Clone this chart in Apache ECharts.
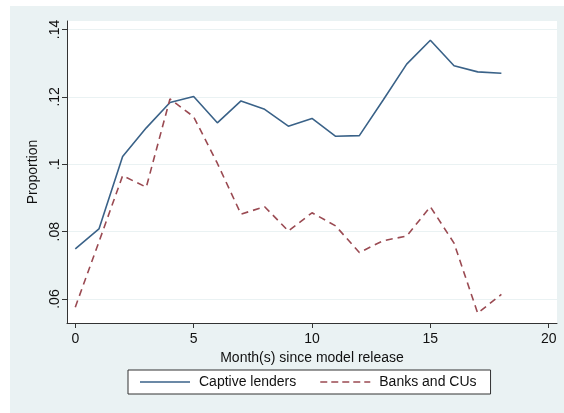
<!DOCTYPE html>
<html>
<head>
<meta charset="utf-8">
<script src="https://cdn.jsdelivr.net/npm/echarts@6/dist/echarts.min.js"></script>
<style>
  html, body { margin: 0; padding: 0; background: #ffffff; }
  #chart { width: 564px; height: 413px; }
</style>
</head>
<body>
<div id="chart"></div>
<script>
// Months since model release
const months = [0, 1, 2, 3, 4, 5, 6, 7, 8, 9, 10, 11, 12, 13, 14, 15, 16, 17, 18];
// Proportion, captive lenders
const captiveLenders = [0.0749, 0.0808, 0.1023, 0.1108, 0.1183, 0.1201, 0.1123, 0.1188, 0.1163,
  0.1113, 0.1136, 0.1083, 0.1085, 0.1190, 0.1297, 0.1368, 0.1292, 0.1274, 0.1270];
// Proportion, banks and credit unions
const banksAndCUs = [0.0576, 0.0770, 0.0966, 0.0932, 0.1194, 0.1141, 0.1003, 0.0852, 0.0874,
  0.0802, 0.0856, 0.0817, 0.0738, 0.0773, 0.0787, 0.0874, 0.0766, 0.0558, 0.0614];
const xTicks = [0, 5, 10, 15, 20];
const yTicks = [0.06, 0.08, 0.10, 0.12, 0.14];

const pair = (ys) => months.map((m, i) => [m, ys[i]]);
const fmtY = (v) => {
  const s = (Math.round(v * 100) / 100).toFixed(2).replace(/^0/, '');
  return s.replace(/0$/, '');
};

const chart = echarts.init(document.getElementById('chart'), null, { renderer: 'canvas' });
const font = 'Liberation Sans, Arial, sans-serif';
const axisColor = '#333333';
const gridColor = '#eaf2f3';
const blue = '#3a6288';
const red = '#9a4a52';

// Legend keys: a solid stroke and a five-dash stroke, 50 px long
const solidKey = 'path://M0,0H50V1.6H0Z';
const dashedKey = 'path://M0,0H7V1.6H0Z M11,0H18V1.6H11Z M22,0H29V1.6H22Z M33,0H40V1.6H33Z M44,0H50V1.6H44Z';

chart.setOption({
  animation: false,
  backgroundColor: '#ffffff',
  graphic: [
    { type: 'rect', shape: { x: 10, y: 6, width: 554, height: 407 }, style: { fill: '#eaf2f3' }, z: -10, silent: true },
    { type: 'rect', shape: { x: 67, y: 21, width: 490, height: 302 }, style: { fill: '#ffffff' }, z: -9, silent: true }
  ],
  grid: { left: 67, right: 7, top: 21, bottom: 90, containLabel: false },
  xAxis: {
    type: 'value',
    min: -0.35, max: 20.35,
    name: 'Month(s) since model release',
    nameLocation: 'middle',
    nameGap: 25,
    nameTextStyle: { fontFamily: font, fontSize: 14, color: '#111', verticalAlign: 'top' },
    axisLine: { show: true, onZero: false, lineStyle: { color: axisColor, width: 1 } },
    axisTick: { show: true, length: 5, customValues: xTicks, lineStyle: { color: axisColor } },
    axisLabel: { customValues: xTicks, fontFamily: font, fontSize: 14, color: '#111', margin: 9 },
    splitLine: { show: false }
  },
  yAxis: {
    type: 'value',
    min: 0.0529, max: 0.1425,
    name: 'Proportion',
    nameLocation: 'middle',
    nameGap: 24,
    nameTextStyle: { fontFamily: font, fontSize: 14, color: '#111' },
    axisLine: { show: true, onZero: false, lineStyle: { color: axisColor, width: 1 } },
    axisTick: { show: true, length: 5, customValues: yTicks, lineStyle: { color: axisColor } },
    axisLabel: { customValues: yTicks, rotate: 90, fontFamily: font, fontSize: 14, color: '#111', margin: 5, formatter: fmtY },
    splitLine: { show: true, lineStyle: { color: gridColor, width: 1.2 } }
  },
  legend: {
    left: 128, top: 370,
    width: 344,
    padding: [5, 14, 5, 12],
    backgroundColor: '#ffffff',
    borderColor: '#333333',
    borderWidth: 1,
    borderRadius: 0,
    itemWidth: 50, itemHeight: 14,
    itemGap: 24,
    symbolKeepAspect: true,
    textStyle: { fontFamily: font, fontSize: 14, color: '#111', padding: [0, 0, 0, 4] },
    data: [
      { name: 'Captive lenders', icon: solidKey, itemStyle: { color: blue } },
      { name: 'Banks and CUs', icon: dashedKey, itemStyle: { color: red } }
    ]
  },
  series: [
    {
      name: 'Captive lenders', type: 'line', data: pair(captiveLenders),
      symbol: 'none', lineStyle: { color: blue, width: 1.6 }, itemStyle: { color: blue }
    },
    {
      name: 'Banks and CUs', type: 'line', data: pair(banksAndCUs),
      symbol: 'none', lineStyle: { color: red, width: 1.6, type: [7, 5] }, itemStyle: { color: red }
    }
  ]
});
</script>
</body>
</html>
